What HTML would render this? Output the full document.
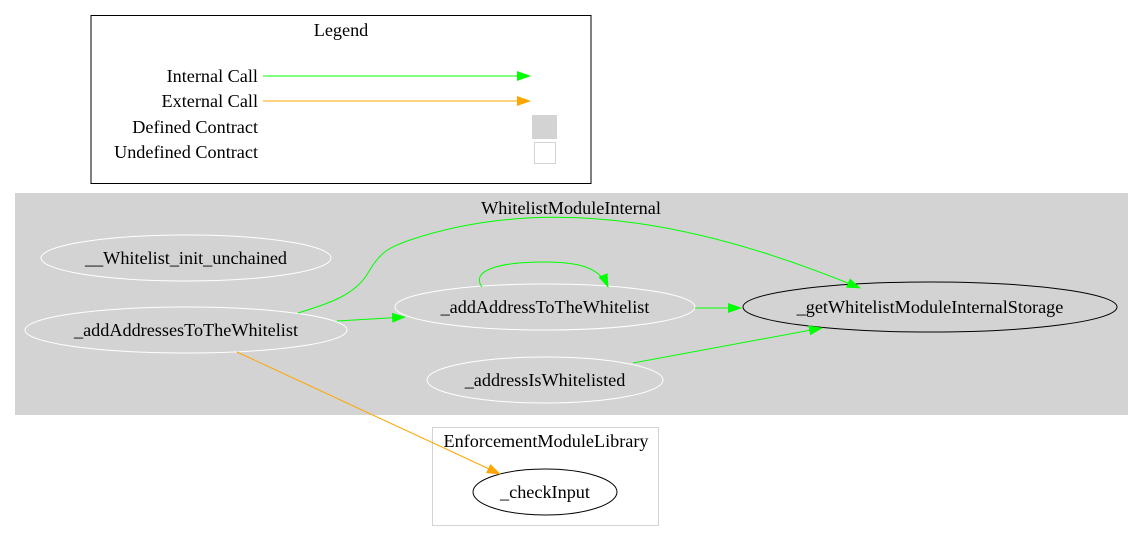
<!DOCTYPE html>
<html><head><meta charset="utf-8"><style>
html,body{margin:0;padding:0;background:#fff;}
svg{display:block;font-family:"Liberation Serif",serif;font-size:18.2px;}
</style></head><body>
<svg width="1144" height="543" viewBox="0 0 1144 543" xmlns="http://www.w3.org/2000/svg">
<defs>
<marker id="g" markerWidth="14" markerHeight="10" refX="13" refY="5" orient="auto" markerUnits="userSpaceOnUse"><polygon points="0,0 14,5 0,10" fill="#00ff00"/></marker>
<marker id="o" markerWidth="14" markerHeight="10" refX="13" refY="5" orient="auto" markerUnits="userSpaceOnUse"><polygon points="0,0 14,5 0,10" fill="#ffa500"/></marker>
</defs>
<rect x="0" y="0" width="1144" height="543" fill="#fff"/>
<rect x="91" y="15.5" width="500" height="168" fill="#fff" stroke="#000"/>
<text x="341" y="36" text-anchor="middle">Legend</text>
<text x="258" y="82" text-anchor="end">Internal Call</text>
<text x="258" y="107" text-anchor="end">External Call</text>
<text x="258" y="133" text-anchor="end">Defined Contract</text>
<text x="258" y="158" text-anchor="end">Undefined Contract</text>
<line x1="263" y1="76" x2="530" y2="76" stroke="#00ff00" marker-end="url(#g)"/>
<line x1="263" y1="101" x2="530" y2="101" stroke="#ffa500" marker-end="url(#o)"/>
<rect x="532" y="115" width="25" height="24" fill="#d3d3d3"/>
<rect x="534.5" y="142.5" width="21" height="21" fill="#fff" stroke="#d3d3d3"/>
<rect x="15" y="193" width="1113" height="222" fill="#d3d3d3"/>
<text x="571" y="214" text-anchor="middle">WhitelistModuleInternal</text>
<rect x="432.5" y="427.5" width="226" height="98" fill="#fff" stroke="#d3d3d3"/>
<text x="546" y="447" text-anchor="middle">EnforcementModuleLibrary</text>
<ellipse cx="186" cy="258" rx="145" ry="23" fill="none" stroke="#fff"/>
<text x="186" y="264" text-anchor="middle">__Whitelist_init_unchained</text>
<ellipse cx="186" cy="330" rx="161" ry="23" fill="none" stroke="#fff"/>
<text x="186" y="336" text-anchor="middle">_addAddressesToTheWhitelist</text>
<ellipse cx="545" cy="307" rx="150" ry="23" fill="none" stroke="#fff"/>
<text x="545" y="313" text-anchor="middle">_addAddressToTheWhitelist</text>
<ellipse cx="545" cy="380" rx="118" ry="23" fill="none" stroke="#fff"/>
<text x="545" y="386" text-anchor="middle">_addressIsWhitelisted</text>
<ellipse cx="930" cy="307" rx="187" ry="25" fill="none" stroke="#000"/>
<text x="930" y="313" text-anchor="middle">_getWhitelistModuleInternalStorage</text>
<ellipse cx="545" cy="492" rx="72" ry="23" fill="none" stroke="#000"/>
<text x="545" y="498" text-anchor="middle">_checkInput</text>
<path d="M337,321 L405,317" fill="none" stroke="#00ff00" marker-end="url(#g)"/>
<path d="M298,313 C330,303 355,295 368,273 C380,252 388,248 410,240 C560,190 720,230 860,288" fill="none" stroke="#00ff00" marker-end="url(#g)"/>
<path d="M482,287 C470,270 500,262 545,262 C580,262 600,268 608,287" fill="none" stroke="#00ff00" marker-end="url(#g)"/>
<path d="M695,308 L741,308" fill="none" stroke="#00ff00" marker-end="url(#g)"/>
<path d="M633,363 L822,328" fill="none" stroke="#00ff00" marker-end="url(#g)"/>
<path d="M237,352 L500,474" fill="none" stroke="#ffa500" marker-end="url(#o)"/>
</svg>
</body></html>
